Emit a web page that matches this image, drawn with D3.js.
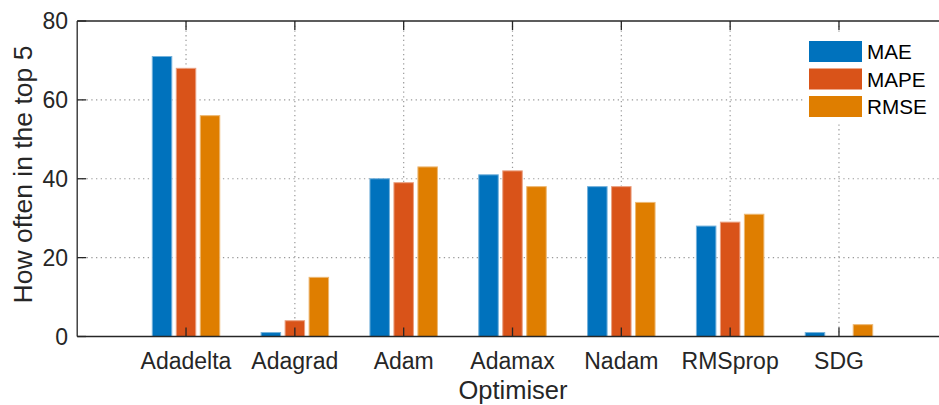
<!DOCTYPE html>
<html>
<head>
<meta charset="utf-8">
<script src="https://cdn.jsdelivr.net/npm/d3@7"></script>
<style>
  html, body { margin: 0; padding: 0; background: #fff; overflow: hidden; }
  svg { display: block; }
  text { font-family: "Liberation Sans", Arial, Helvetica, sans-serif; fill: #262626; }
</style>
</head>
<body>
<svg id="chart" width="939" height="405"></svg>
<script>
// Optimisers on the x axis
const categories = ["Adadelta", "Adagrad", "Adam", "Adamax", "Nadam", "RMSprop", "SDG"];
// Error metrics (one bar per metric inside each group)
const seriesNames = ["MAE", "MAPE", "RMSE"];
const maeValues  = [71, 1, 40, 41, 38, 28, 1];
const mapeValues = [68, 4, 39, 42, 38, 29, 0];
const rmseValues = [56, 15, 43, 38, 34, 31, 3];
const yTicks = [0, 20, 40, 60, 80];
const colors = ["#0072BD", "#D95319", "#DF7E00"];

const seriesValues = [maeValues, mapeValues, rmseValues];

const svg = d3.select("#chart");
const plotLeft = 77.2, plotRight = 947.8, plotTop = 21, plotBottom = 336.5;

// Category positions 1..7 on a 0..8 linear axis
const x = d3.scaleLinear().domain([0, categories.length + 1]).range([plotLeft, plotRight]);
const y = d3.scaleLinear().domain([0, 80]).range([plotBottom, plotTop]);
const unit = x(1) - x(0);
const inner = d3.scaleBand().domain(seriesNames)
  .range([-0.31 * unit, 0.31 * unit]).paddingInner(0.1875).paddingOuter(0);

const catPos = categories.map((c, i) => i + 1);

// Dotted grid
const grid = svg.append("g");
grid.append("g").selectAll("line").data(yTicks.filter(t => t > 0 && t < 80)).join("line")
  .attr("x1", plotLeft).attr("x2", plotRight)
  .attr("y1", d => y(d)).attr("y2", d => y(d))
  .attr("stroke", "#9a9a9a").attr("stroke-width", 1.2).attr("stroke-dasharray", "1.3 3.4");
grid.append("g").selectAll("line").data(catPos).join("line")
  .attr("x1", d => x(d)).attr("x2", d => x(d))
  .attr("y1", plotTop).attr("y2", plotBottom)
  .attr("stroke", "#9a9a9a").attr("stroke-width", 1.2).attr("stroke-dasharray", "1.3 3.4");

// Bars
const barData = [];
categories.forEach((c, i) => {
  seriesNames.forEach((s, j) => {
    barData.push({ cat: i + 1, s, j, v: seriesValues[j][i] });
  });
});
svg.append("g").selectAll("rect").data(barData.filter(d => d.v > 0)).join("rect")
  .attr("x", d => x(d.cat) + inner(d.s))
  .attr("width", inner.bandwidth())
  .attr("y", d => y(d.v))
  .attr("height", d => y(0) - y(d.v))
  .attr("fill", d => colors[d.j])
  .attr("stroke", d => d3.interpolateRgb(colors[d.j], "#ffffff")(0.45))
  .attr("stroke-width", 1);

// Axes box and inward ticks
const axisColor = "#262626";
const ax = svg.append("g").attr("stroke", axisColor).attr("stroke-width", 1.3);
ax.append("line").attr("x1", plotLeft).attr("x2", plotRight).attr("y1", plotBottom).attr("y2", plotBottom);
ax.append("line").attr("x1", plotLeft).attr("x2", plotRight).attr("y1", plotTop).attr("y2", plotTop);
ax.append("line").attr("x1", plotLeft).attr("x2", plotLeft).attr("y1", plotTop).attr("y2", plotBottom);
const tickLen = 9;
ax.append("g").selectAll("line").data(catPos).join("line")
  .attr("x1", d => x(d)).attr("x2", d => x(d)).attr("y1", plotBottom).attr("y2", plotBottom - tickLen);
ax.append("g").selectAll("line").data(catPos).join("line")
  .attr("x1", d => x(d)).attr("x2", d => x(d)).attr("y1", plotTop).attr("y2", plotTop + tickLen);
ax.append("g").selectAll("line").data(yTicks).join("line")
  .attr("x1", plotLeft).attr("x2", plotLeft + tickLen).attr("y1", d => y(d)).attr("y2", d => y(d));

// Tick labels
svg.append("g").selectAll("text").data(categories).join("text")
  .attr("x", (d, i) => x(i + 1)).attr("y", 369)
  .attr("text-anchor", "middle").attr("font-size", 23).text(d => d);
svg.append("g").selectAll("text").data(yTicks).join("text")
  .attr("x", 68).attr("y", d => y(d) + 8.2)
  .attr("text-anchor", "end").attr("font-size", 23).text(d => d);

// Axis titles
svg.append("text").attr("x", 513).attr("y", 399)
  .attr("text-anchor", "middle").attr("font-size", 25.5).text("Optimiser");
svg.append("text").attr("transform", "translate(31.5,174.5) rotate(-90)")
  .attr("text-anchor", "middle").attr("font-size", 26.5).text("How often in the top 5");

// Legend
const lg = svg.append("g").attr("transform", "translate(803,34)");
lg.append("rect").attr("x", 0).attr("y", 0).attr("width", 136).attr("height", 90).attr("fill", "#fff");
seriesNames.forEach((s, j) => {
  const yy = 7 + j * 27.5;
  lg.append("rect").attr("x", 6).attr("y", yy).attr("width", 53).attr("height", 21)
    .attr("fill", colors[j]);
  lg.append("text").attr("x", 64).attr("y", yy + 18).attr("font-size", 20.7)
    .style("fill", "#000").text(s);
});
</script>
</body>
</html>
